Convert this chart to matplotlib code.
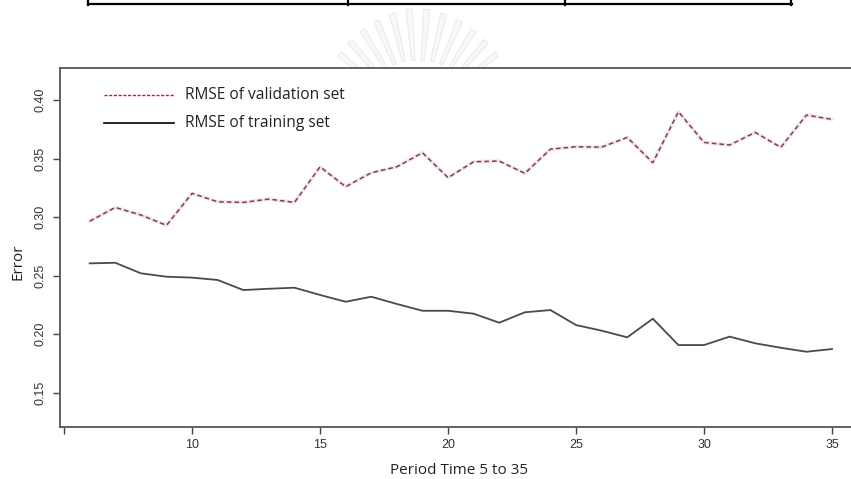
import numpy as np
import matplotlib.pyplot as plt
from matplotlib.lines import Line2D
from matplotlib.patches import Polygon

W, H = 851, 479

# period index 6..35
period = list(range(6, 36))
rmse_valid = [0.2965, 0.3083, 0.3018, 0.2930, 0.3203, 0.3131, 0.3126, 0.3154, 0.3126, 0.3430,
              0.3260, 0.3379, 0.3430, 0.3550, 0.3337, 0.3473, 0.3479, 0.3374, 0.3581, 0.3601,
              0.3598, 0.3681, 0.3465, 0.3900, 0.3638, 0.3616, 0.3724, 0.3596, 0.3872, 0.3835]
rmse_train = [0.2605, 0.2610, 0.2520, 0.2491, 0.2483, 0.2463, 0.2377, 0.2388, 0.2397, 0.2335,
              0.2277, 0.2320, 0.2258, 0.2200, 0.2200, 0.2175, 0.2098, 0.2187, 0.2206, 0.2078,
              0.2030, 0.1973, 0.2132, 0.1907, 0.1907, 0.1979, 0.1922, 0.1884, 0.1850, 0.1873]

x_ticks = [5, 10, 15, 20, 25, 30, 35]
x_tick_labels = ['', '10', '15', '20', '25', '30', '35']
y_ticks = [0.15, 0.20, 0.25, 0.30, 0.35, 0.40]
y_tick_labels = ['0.15', '0.20', '0.25', '0.30', '0.35', '0.40']


def fx(px):
    return px / W


def fy(py):
    return 1 - py / H


fig = plt.figure(figsize=(W / 100, H / 100), dpi=100)

# table rule across the top of the page
fig.add_artist(Line2D([fx(88), fx(792)], [fy(3.5), fy(3.5)], color='black', lw=1.6))
for vx in [88, 347.5, 565, 791]:
    fig.add_artist(Line2D([fx(vx), fx(vx)], [fy(0), fy(4.5)], color='black', lw=1.6))

# faint seal behind the plot
cx, cy = 418, 120
for ang in np.linspace(40, 140, 12):
    a = np.radians(ang)
    r0, r1 = 60, 112 - 12 * abs(np.cos(a))
    w = np.radians(1.6)
    pts = [(cx + r0 * np.cos(a - w), cy - r0 * np.sin(a - w)),
           (cx + r1 * np.cos(a - w), cy - r1 * np.sin(a - w)),
           (cx + r1 * np.cos(a + w), cy - r1 * np.sin(a + w)),
           (cx + r0 * np.cos(a + w), cy - r0 * np.sin(a + w))]
    fig.add_artist(Polygon([(fx(p), fy(q)) for p, q in pts], closed=True,
                           facecolor='#f8f8f8', edgecolor='#ebebeb', lw=0.8, zorder=0))

ax = fig.add_axes([fx(60), fy(427), (861.7 - 60) / W, (427 - 68) / H])
ax.set_facecolor('white')

ax.plot(period, rmse_valid, color='#f9e3e7', lw=2.6, solid_capstyle='round')
ax.plot(period, rmse_valid, color='#6e4652', lw=1.1, linestyle=(0, (3, 2)))
ax.plot(period, rmse_train, color='#4a4a4a', lw=1.3)

ax.set_xlim(4.84, 36.16)
ax.set_ylim(0.1207, 0.4274)
ax.set_xticks(x_ticks)
ax.set_xticklabels(x_tick_labels, family='Liberation Sans', fontsize=9, color='#333333')
ax.set_yticks(y_ticks)
ax.set_yticklabels(y_tick_labels, family='Liberation Sans', fontsize=9, color='#333333',
                   rotation=90, va='center')
ax.tick_params(axis='x', length=5, width=1, color='#444444', pad=4)
ax.tick_params(axis='y', length=5, width=1, color='#444444', pad=5)
for side in ['left', 'top', 'bottom', 'right']:
    ax.spines[side].set_color('#555555')
    ax.spines[side].set_linewidth(1.3)

# legend drawn by hand in the top-left corner
font = 'Open Sans'
fig.add_artist(Line2D([fx(104), fx(174)], [fy(95), fy(95)], color='red', lw=1.0,
                      linestyle=(0, (2.2, 1.2))))
fig.add_artist(Line2D([fx(104), fx(174)], [fy(123), fy(123)], color='black', lw=1.2))
fig.text(fx(185), fy(95), 'RMSE of validation set', family=font, fontsize=11.2,
         color='#222222', va='center', ha='left')
fig.text(fx(185), fy(123), 'RMSE of training set', family=font, fontsize=11.2,
         color='#222222', va='center', ha='left')

fig.text(fx(18), fy(262), 'Error', family=font, fontsize=11, color='#222222',
         rotation=90, va='center', ha='center')
fig.text(fx(459), fy(470), 'Period Time 5 to 35', family=font, fontsize=11,
         color='#222222', va='center', ha='center')

fig.savefig('out.png', dpi=100)
